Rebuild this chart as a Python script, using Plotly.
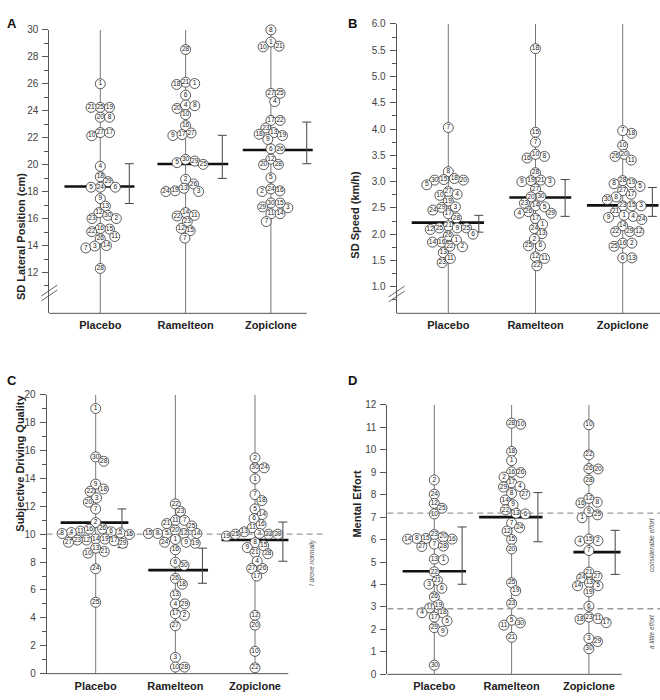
import numpy as np
import plotly.graph_objects as go

W, H = 660, 700
GROUPS = ["Placebo", "Ramelteon", "Zopiclone"]

# ---------- A: SD lateral position (cm) ----------
a_pla_id = [1, 25, 19, 21, 20, 8, 27, 17, 10, 4, 18, 29, 24, 5, 6, 9, 13, 12, 30, 23, 2, 15, 16, 22, 26, 11, 7, 3, 14, 28]
a_pla = [26.0, 24.25, 24.25, 24.25, 23.52, 23.52, 22.38, 22.38, 22.14, 19.88, 19.1, 18.74, 18.33, 18.33, 18.33,
         17.48, 16.92, 16.44, 16.24, 16.0, 16.0, 15.22, 15.27, 15.03, 14.5, 14.67, 13.82, 13.96, 14.0, 12.3]
a_ram_id = [28, 21, 1, 18, 6, 20, 4, 8, 10, 16, 27, 9, 17, 29, 5, 25, 30, 26, 2, 19, 3, 13, 24, 14, 11, 22, 23, 15, 12, 7]
a_ram = [28.54, 26.12, 26.02, 25.95, 25.15, 24.17, 24.42, 24.37, 23.71, 22.89, 22.35, 22.16, 22.23, 20.27, 20.15,
         20.02, 20.39, 18.57, 18.91, 18.06, 18.01, 18.25, 18.01, 16.44, 16.24, 16.19, 15.78, 15.1, 15.27, 14.55]
a_zop_id = [8, 1, 10, 21, 27, 25, 4, 17, 22, 23, 13, 19, 18, 9, 6, 26, 12, 20, 28, 5, 16, 2, 24, 30, 29, 3, 15, 11, 14, 7]
a_zop = [30.0, 29.1, 28.74, 28.79, 25.29, 25.29, 24.68, 23.28, 23.28, 22.72, 22.38, 22.16, 22.26, 21.87, 21.17,
         21.17, 20.41, 20.0, 20.02, 19.03, 18.06, 18.01, 18.2, 17.16, 16.87, 16.8, 17.16, 16.36, 16.36, 15.78]
a_mean = [18.38, 20.05, 21.09]
a_hi = [20.07, 22.18, 23.16]
a_lo = [17.12, 18.98, 20.07]
a_ticks = [12, 14, 16, 18, 20, 22, 24, 26, 28, 30]
a_minor = [11, 13, 15, 17, 19, 21, 23, 25, 27, 29]

# ---------- B: SD speed (km/h) ----------
b_pla_id = [7, 8, 30, 20, 18, 15, 5, 27, 4, 10, 19, 29, 24, 3, 17, 28, 21, 9, 12, 25, 25, 26, 6, 1, 16, 14, 22, 2, 13, 23, 11]
b_pla = [4.03, 3.19, 3.03, 3.03, 3.06, 3.04, 2.94, 2.81, 2.76, 2.74, 2.63, 2.51, 2.46, 2.52, 2.39, 2.31, 2.16,
         2.12, 2.09, 2.12, 2.12, 1.97, 2.0, 1.89, 1.85, 1.85, 1.77, 1.76, 1.65, 1.46, 1.54]
b_ram_id = [18, 15, 7, 16, 8, 10, 28, 21, 9, 3, 19, 27, 30, 20, 23, 14, 5, 29, 26, 4, 17, 24, 1, 13, 2, 6, 25, 12, 11, 22]
b_ram = [5.53, 3.94, 3.75, 3.45, 3.48, 3.52, 3.17, 3.03, 3.0, 3.0, 3.02, 2.86, 2.72, 2.71, 2.59, 2.54, 2.52, 2.4,
         2.43, 2.4, 2.3, 2.11, 2.19, 2.01, 1.91, 1.78, 1.78, 1.57, 1.54, 1.4]
b_zop_id = [18, 7, 10, 20, 26, 11, 28, 19, 5, 8, 27, 17, 8, 30, 23, 15, 3, 21, 4, 1, 24, 9, 14, 29, 22, 12, 16, 2, 25, 6, 13]
b_zop = [3.92, 3.97, 3.69, 3.52, 3.48, 3.41, 3.02, 2.98, 2.91, 2.96, 2.83, 2.76, 2.71, 2.66, 2.54, 2.54, 2.54, 2.43,
         2.34, 2.36, 2.28, 2.32, 2.16, 2.05, 2.05, 2.05, 1.83, 1.83, 1.77, 1.55, 1.55]
b_mean = [2.22, 2.7, 2.55]
b_hi = [2.36, 3.04, 2.89]
b_lo = [2.04, 2.34, 2.34]
b_ticks = [1.0, 1.5, 2.0, 2.5, 3.0, 3.5, 4.0, 4.5, 5.0, 5.5, 6.0]
b_minor = [0.75, 1.25, 1.75, 2.25, 2.75, 3.25, 3.75, 4.25, 4.75, 5.25, 5.75]

# ---------- C: subjective driving quality ----------
c_pla_id = [1, 30, 28, 9, 18, 22, 3, 20, 7, 2, 26, 11, 5, 4, 6, 8, 16, 15, 29, 14, 12, 23, 17, 27, 19, 21, 13, 10, 24, 25]
c_pla = [19.01, 15.54, 15.23, 13.59, 13.24, 13.07, 12.6, 12.3, 11.81, 10.83, 10.4, 10.22, 10.1, 10.12, 10.17,
         10.05, 10.36, 9.98, 9.35, 9.65, 9.58, 9.58, 9.53, 9.42, 9.65, 8.76, 9.0, 8.64, 7.52, 5.12]
c_ram_id = [22, 23, 11, 7, 21, 25, 12, 5, 20, 8, 14, 15, 19, 1, 9, 24, 16, 30, 6, 26, 18, 13, 4, 29, 2, 17, 27, 3, 10, 28]
c_ram = [12.17, 11.63, 10.99, 10.99, 10.76, 10.59, 10.05, 10.05, 10.29, 10.05, 10.05, 10.05, 9.35, 9.63, 9.42,
         9.42, 8.88, 7.77, 7.98, 6.83, 6.41, 5.66, 5.0, 5.0, 4.18, 4.3, 3.43, 1.17, 0.47, 0.47]
c_zop_id = [2, 30, 24, 1, 7, 18, 5, 14, 6, 11, 16, 23, 19, 3, 13, 25, 29, 8, 15, 9, 21, 28, 4, 27, 26, 17, 12, 20, 10, 22]
c_zop = [15.47, 14.76, 14.76, 13.96, 12.84, 12.41, 11.81, 11.41, 11.11, 10.47, 10.69, 10.0, 9.86, 10.05, 10.17,
         10.0, 10.0, 9.39, 9.18, 9.04, 8.69, 8.6, 8.06, 7.54, 7.54, 7.0, 4.18, 3.48, 1.6, 0.42]
c_mean = [10.83, 7.42, 9.58]
c_hi = [11.81, 9.0, 10.87]
c_lo = [9.04, 6.48, 8.06]
c_ticks = [0, 2, 4, 6, 8, 10, 12, 14, 16, 18, 20]
c_minor = [1, 3, 5, 7, 9, 11, 13, 15, 17, 19]
c_refs = [10.0]
c_notes = ["I drove normally"]
c_note_y = [7.93]

# ---------- D: mental effort ----------
d_pla_id = [2, 24, 12, 25, 10, 23, 16, 15, 8, 14, 20, 27, 7, 28, 13, 1, 22, 21, 3, 6, 26, 19, 11, 18, 4, 17, 5, 29, 9, 30]
d_pla = [8.65, 8.02, 7.61, 7.39, 7.14, 6.22, 6.02, 6.05, 6.05, 6.02, 6.12, 5.69, 5.8, 5.71, 5.13, 5.1, 4.56,
         4.18, 4.01, 3.83, 3.45, 3.09, 2.96, 2.74, 2.74, 2.55, 2.38, 2.08, 1.92, 0.41]
d_ram_id = [3, 10, 28, 18, 1, 26, 16, 2, 17, 4, 29, 27, 8, 14, 9, 22, 13, 6, 7, 24, 12, 15, 20, 25, 19, 23, 5, 30, 11, 21]
d_ram = [12.15, 11.13, 11.18, 9.92, 9.51, 8.98, 9.01, 8.78, 8.53, 8.36, 8.34, 8.02, 8.05, 7.76, 7.55, 7.32, 7.17,
         7.14, 6.73, 6.53, 6.38, 6.0, 5.58, 4.08, 3.72, 3.16, 2.41, 2.29, 2.19, 1.65]
d_zop_id = [10, 22, 20, 26, 28, 16, 8, 12, 9, 25, 1, 4, 2, 15, 7, 21, 24, 27, 13, 5, 14, 19, 6, 23, 11, 18, 17, 29, 3, 30]
d_zop = [11.11, 9.77, 9.14, 9.16, 8.65, 7.63, 7.66, 7.83, 7.24, 7.1, 6.97, 5.93, 5.95, 6.02, 5.51, 4.55, 4.3,
         4.37, 4.08, 3.94, 3.94, 3.67, 3.03, 2.55, 2.48, 2.45, 2.3, 1.46, 1.6, 1.14]
d_mean = [4.59, 7.0, 5.44]
d_hi = [6.56, 8.09, 6.41]
d_lo = [4.01, 5.9, 4.45]
d_ticks = [0, 1, 2, 3, 4, 5, 6, 7, 8, 9, 10, 11, 12]
d_refs = [7.18, 2.92]
d_notes = ["considerable effort", "a little effort"]
d_note_y = [5.76, 1.89]

# ---------- panel geometry / styling (pixels) ----------
panels = [
    dict(letter="A", title="SD Lateral Position (cm)",
         ids=[a_pla_id, a_ram_id, a_zop_id], vals=[a_pla, a_ram, a_zop], mean=a_mean, hi=a_hi, lo=a_lo,
         ticks=a_ticks, minor=a_minor, fmt="d", yrange=(8.97, 30),
         ax_px=49.3, cat0_px=100.3, step_px=85.3, right_px=318, end_px=306.7, top_px=24.3, bot_px=312.7,
         ml=[-0.42, -0.33, -0.33], mr=[0.40, 0.50, 0.49], eb=[0.34, 0.43, 0.42], brk_px=292,
         refs=[], notes=[], note_y=[], letter_xy=(5, 8), title_x=13),
    dict(letter="B", title="SD Speed (km/h)",
         ids=[b_pla_id, b_ram_id, b_zop_id], vals=[b_pla, b_ram, b_zop], mean=b_mean, hi=b_hi, lo=b_lo,
         ticks=b_ticks, minor=b_minor, fmt=".1f", yrange=(0.495, 6.0),
         ax_px=396.7, cat0_px=448.3, step_px=87.2, right_px=660, end_px=660, top_px=18.3, bot_px=312.7,
         ml=[-0.42, -0.30, -0.41], mr=[0.41, 0.41, 0.41], eb=[0.35, 0.34, 0.34], brk_px=293,
         refs=[], notes=[], note_y=[], letter_xy=(352, 8), title_x=355),
    dict(letter="C", title="Subjective Driving Quality",
         ids=[c_pla_id, c_ram_id, c_zop_id], vals=[c_pla, c_ram, c_zop], mean=c_mean, hi=c_hi, lo=c_lo,
         ticks=c_ticks, minor=c_minor, fmt="d", yrange=(0, 20),
         ax_px=46.7, cat0_px=95.7, step_px=79.65, right_px=325, end_px=288.3, top_px=395.5, bot_px=679.3,
         ml=[-0.44, -0.34, -0.42], mr=[0.41, 0.41, 0.42], eb=[0.33, 0.34, 0.35], brk_px=None,
         refs=c_refs, notes=c_notes, note_y=c_note_y, note_x_px=312, letter_xy=(5, 381), title_x=12),
    dict(letter="D", title="Mental Effort",
         ids=[d_pla_id, d_ram_id, d_zop_id], vals=[d_pla, d_ram, d_zop], mean=d_mean, hi=d_hi, lo=d_lo,
         ticks=d_ticks, minor=[], fmt="d", yrange=(0, 12),
         ax_px=387.3, cat0_px=434.3, step_px=77.3, right_px=660, end_px=621.7, top_px=405.7, bot_px=680,
         ml=[-0.41, -0.42, -0.20], mr=[0.41, 0.40, 0.41], eb=[0.36, 0.34, 0.34], brk_px=None,
         refs=d_refs, notes=d_notes, note_y=d_note_y, note_x_px=652, letter_xy=(352, 381), title_x=357),
]

NARROW = "Liberation Sans Narrow, Arial Narrow, Liberation Sans, Arial, sans-serif"
SANS = "Liberation Sans, Arial, sans-serif"
DOT_D = 9.2


def swarm(vals, ppx, ppy, d=DOT_D):
    """Greedy beeswarm: horizontal offsets (in category units) so circles do not overlap."""
    v = np.asarray(vals, float)
    order = np.argsort(-v, kind="stable")
    placed, off = [], np.zeros(len(v))
    for i in order:
        y = v[i] * ppy
        near = [(px, py) for px, py in placed if abs(py - y) < d]
        cands = [0.0]
        for px, py in near:
            dx = np.sqrt(d * d - (py - y) ** 2)
            cands += [px - dx, px + dx]
        best = 0.0
        for c in sorted(cands, key=lambda c: (round(abs(c), 6), -c)):
            if all((c - px) ** 2 + (y - py) ** 2 >= d * d - 1e-6 for px, py in near):
                best = c
                break
        placed.append((best, y))
        off[i] = best / ppx
    return off


fig = go.Figure()
axes, shapes, annotations = {}, [], []

for k, p in enumerate(panels):
    n = "" if k == 0 else str(k + 1)
    xa, ya = "x" + n, "y" + n
    step = p["step_px"]
    xl = (p["ax_px"] - p["cat0_px"]) / step
    xr = (p["right_px"] - p["cat0_px"]) / step
    y0, y1 = p["yrange"]
    ppy = (p["bot_px"] - p["top_px"]) / (y1 - y0)

    axes["xaxis" + n] = dict(domain=[p["ax_px"] / W, p["right_px"] / W], range=[xl, xr], anchor=ya,
                             showgrid=False, zeroline=False, showline=False, ticks="",
                             tickvals=list(range(len(GROUPS))), ticktext=["<b>%s</b>" % g for g in GROUPS],
                             tickfont=dict(family=SANS, size=11, color="#222"), ticklabelstandoff=4,
                             fixedrange=True)
    yax = dict(domain=[1 - p["bot_px"] / H, 1 - p["top_px"] / H], range=[y0, y1], anchor=xa,
               showgrid=False, zeroline=False, showline=True, linecolor="#555", linewidth=1,
               ticks="outside", ticklen=6, tickcolor="#555", tickwidth=1,
               tickvals=p["ticks"], tickformat=p["fmt"], ticklabelstandoff=2,
               tickfont=dict(family=NARROW, size=10, color="#444"), fixedrange=True)
    if p["minor"]:
        yax["minor"] = dict(tickvals=p["minor"], ticks="outside", ticklen=4, tickcolor="#555")
    axes["yaxis" + n] = yax

    # vertical guide line per drug condition
    gx, gy = [], []
    for i in range(len(GROUPS)):
        gx += [i, i, None]
        gy += [y0, y1, None]
    fig.add_trace(go.Scatter(x=gx, y=gy, mode="lines", line=dict(color="#555", width=0.8),
                             xaxis=xa, yaxis=ya, hoverinfo="skip", showlegend=False))

    # mean bars
    for i, m in enumerate(p["mean"]):
        fig.add_trace(go.Scatter(x=[i + p["ml"][i], i + p["mr"][i]], y=[m, m], mode="lines",
                                 line=dict(color="#111", width=2.6), xaxis=xa, yaxis=ya,
                                 hoverinfo="skip", showlegend=False))

    # error bars
    m = np.array(p["mean"])
    fig.add_trace(go.Scatter(
        x=[i + p["eb"][i] for i in range(len(GROUPS))], y=m, mode="markers",
        marker=dict(size=1, color="rgba(0,0,0,0)"),
        error_y=dict(type="data", symmetric=False, array=np.array(p["hi"]) - m,
                     arrayminus=m - np.array(p["lo"]), width=4.5, thickness=1, color="#444"),
        xaxis=xa, yaxis=ya, hoverinfo="skip", showlegend=False))

    # reference lines (dashed)
    for r in p["refs"]:
        shapes.append(dict(type="line", xref=xa, yref=ya, x0=xl, x1=xr, y0=r, y1=r,
                           line=dict(color="#9a9a9a", width=1.3, dash="6px,4px")))

    # individual subjects
    for i, (ids, vals) in enumerate(zip(p["ids"], p["vals"])):
        off = swarm(vals, step, ppy)
        fig.add_trace(go.Scatter(
            x=i + off, y=vals, mode="markers+text", text=[str(s) for s in ids],
            textposition="middle center", textfont=dict(family=NARROW, size=6.6, color="#222"),
            marker=dict(size=10, color="white", line=dict(color="#333", width=0.8)),
            cliponaxis=False, xaxis=xa, yaxis=ya, hoverinfo="skip", showlegend=False))

    # x baseline
    shapes.append(dict(type="line", xref="paper", yref="paper",
                       x0=p["ax_px"] / W, x1=p["end_px"] / W,
                       y0=1 - p["bot_px"] / H, y1=1 - p["bot_px"] / H,
                       line=dict(color="#555", width=1)))
    # axis break marks
    if p["brk_px"] is not None:
        for dy in (-2.5, 2.5):
            cy = p["brk_px"] + dy
            shapes.append(dict(type="line", xref="paper", yref="paper",
                               x0=(p["ax_px"] - 8) / W, x1=(p["ax_px"] + 8) / W,
                               y0=1 - (cy + 5.5) / H, y1=1 - (cy - 5.5) / H,
                               line=dict(color="#555", width=0.9)))

    # notes next to reference lines
    for txt, ny in zip(p["notes"], p["note_y"]):
        annotations.append(dict(x=(p["note_x_px"] - p["cat0_px"]) / step, y=ny, xref=xa, yref=ya,
                                text="<i>%s</i>" % txt, showarrow=False, textangle=-90,
                                font=dict(family=SANS, size=6.5, color="#555")))

    # panel letter and axis title
    lx, ly = p["letter_xy"]
    annotations.append(dict(x=lx / W, y=1 - ly / H, xref="paper", yref="paper", text="<b>%s</b>" % p["letter"],
                            showarrow=False, font=dict(family=SANS, size=13, color="#111")))
    annotations.append(dict(x=p["title_x"] / W, y=1 - (p["top_px"] + p["bot_px"]) / 2 / H,
                            xref="paper", yref="paper", text="<b>%s</b>" % p["title"], textangle=-90,
                            showarrow=False, font=dict(family=SANS, size=11, color="#222")))

fig.update_layout(
    width=W, height=H, autosize=False,
    margin=dict(l=0, r=0, t=0, b=0),
    paper_bgcolor="white", plot_bgcolor="white",
    shapes=shapes, annotations=annotations, showlegend=False,
    **axes,
)

fig.write_html("out.html", config={"displayModeBar": False},
               post_script="document.body.style.margin='0';")
